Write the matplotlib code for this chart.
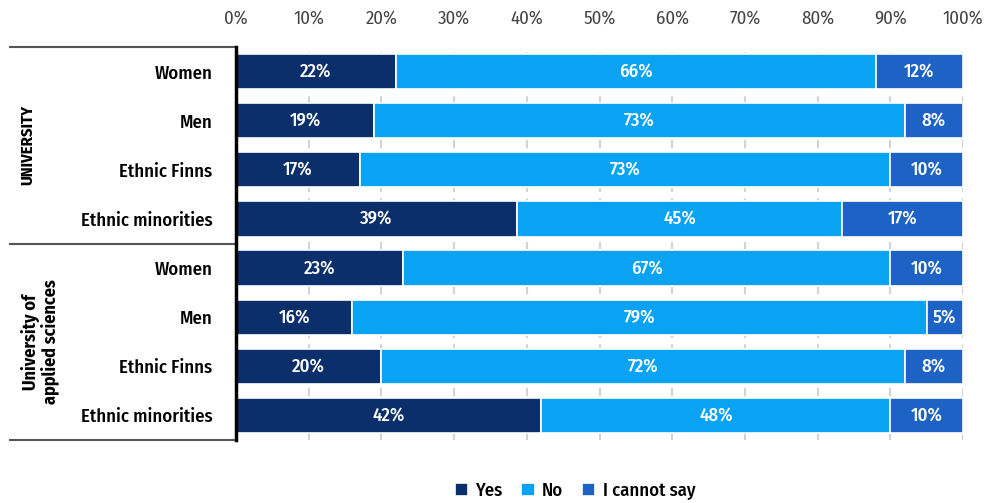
import matplotlib
matplotlib.use("Agg")
import matplotlib.pyplot as plt
import matplotlib.transforms as mtransforms
import numpy as np

# data
groups = ["UNIVERSITY", "University of\napplied sciences"]
rows = ["Women", "Men", "Ethnic Finns", "Ethnic minorities",
        "Women", "Men", "Ethnic Finns", "Ethnic minorities"]
yes = [22, 19, 17, 38.6, 23, 16, 20, 42]
no = [66, 73, 73, 44.8, 67, 79, 72, 48]
cannot = [12, 8, 10, 16.6, 10, 5, 8, 10]
series_names = ["Yes", "No", "I cannot say"]
colors = ["#0b2f6b", "#0aa3f4", "#1d63c6"]
xticks = [0, 10, 20, 30, 40, 50, 60, 70, 80, 90, 100]

plt.rcParams["font.family"] = ["Fira Sans Condensed", "DejaVu Sans"]
plt.rcParams["font.weight"] = 500

fig = plt.figure(figsize=(9.84, 5.03), dpi=100)
ax = fig.add_axes([236 / 984, 1 - 440 / 503, 727 / 984, 393 / 503])

y = np.arange(len(rows))
left = np.zeros(len(rows))
for vals, name, c in zip([yes, no, cannot], series_names, colors):
    vals = np.array(vals, dtype=float)
    bars = ax.barh(y, vals, left=left, height=0.72, color=c,
                   edgecolor="white", linewidth=1.2, label=name, zorder=3)
    for b, v in zip(bars, vals):
        ax.text(b.get_x() + b.get_width() / 2, b.get_y() + b.get_height() / 2,
                f"{v:.0f}%", ha="center", va="center", color="white",
                fontsize=13.5, zorder=4)
    left += vals

ax.set_xlim(0, 100)
ax.set_ylim(len(rows) - 0.5, -0.5)
ax.set_yticks(y)
ax.set_yticklabels(rows, fontsize=13.5)
ax.set_xticks(xticks)
ax.set_xticklabels([f"{t}%" for t in xticks], fontsize=13.5, color="#444444",
                   fontweight=400)
ax.xaxis.tick_top()
ax.tick_params(axis="x", length=0, pad=14)
ax.tick_params(axis="y", length=0, pad=17)
for t in xticks[1:]:
    ax.axvline(t, color="#d3d3d3", lw=1.5, ls=(0, (4, 3)), zorder=1)

for s in ["top", "right", "bottom"]:
    ax.spines[s].set_visible(False)
ax.spines["left"].set_linewidth(2.5)
ax.spines["left"].set_color("black")
ax.spines["left"].set_zorder(5)

# group separators and group labels
trans = mtransforms.blended_transform_factory(ax.transAxes, ax.transData)
x0 = (10 - 236) / 727
for yy in [-0.5, 3.5, 7.5]:
    ax.plot([x0, 0], [yy, yy], color="#555555", lw=1.5, transform=trans,
            clip_on=False)
ax.text((28 - 236) / 727, 1.5, groups[0], rotation=90, ha="center",
        va="center", fontsize=12, fontweight="bold", transform=trans)
ax.text((40 - 236) / 727, 5.5, groups[1], rotation=90, ha="center",
        va="center", fontsize=13, fontweight="bold", transform=trans,
        linespacing=1.0, multialignment="center")

fig.legend(loc="center", bbox_to_anchor=(575 / 984, 1 - 491 / 503), ncol=3,
           frameon=False, fontsize=13.5, handlelength=0.7, handleheight=0.7,
           columnspacing=1.0, handletextpad=0.4)

fig.savefig("out.png", dpi=100)
